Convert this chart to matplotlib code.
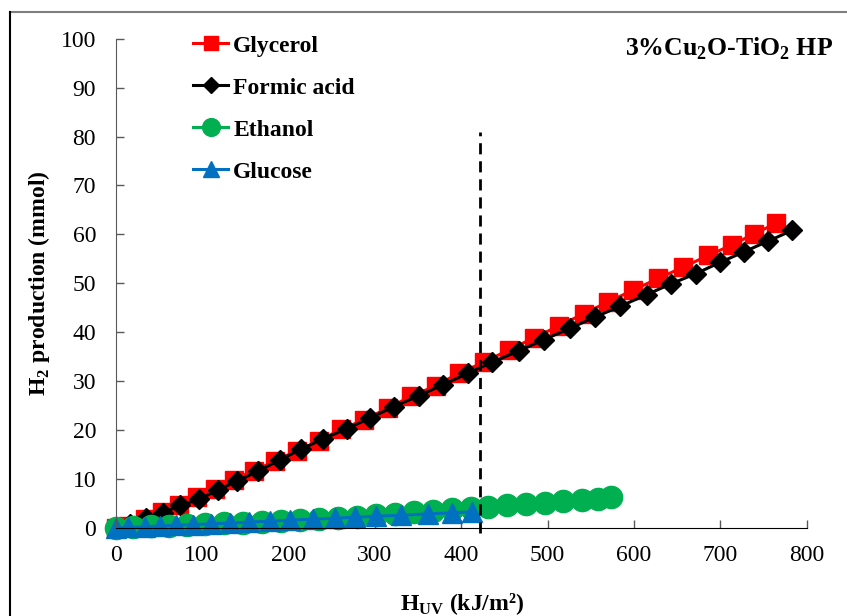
import matplotlib
matplotlib.use("Agg")
import matplotlib.pyplot as plt
from matplotlib.lines import Line2D

plt.rcParams['font.family'] = ['Liberation Serif', 'DejaVu Serif']
plt.rcParams['mathtext.fontset'] = 'custom'
plt.rcParams['mathtext.rm'] = 'Liberation Serif'
plt.rcParams['mathtext.bf'] = 'Liberation Serif:bold'

# Data (H_UV in kJ/m2, H2 in mmol)
glycerol_x = [0, 14, 34, 54, 73, 94, 115, 137, 160, 185, 210, 236, 261, 288, 315, 342,
              371, 398, 427, 455, 484, 513, 542, 570, 599, 628, 657, 686, 713, 739, 765]
glycerol_y = [0, 0.5, 1.8, 3.2, 4.6, 6.3, 8.0, 9.9, 11.7, 13.7, 15.8, 17.8, 20.2, 22.1, 24.5, 26.9,
              29.1, 31.7, 33.9, 36.4, 38.8, 41.3, 43.8, 46.2, 48.6, 51.0, 53.3, 55.7, 57.8, 60.1, 62.3]

formic_x = [0, 17, 35, 55, 75, 97, 119, 141, 165, 190, 215, 240, 268, 295, 322, 351,
            379, 408, 436, 467, 496, 526, 555, 584, 615, 643, 672, 700, 727, 755, 783]
formic_y = [0, 0.9, 2.0, 3.1, 4.6, 5.9, 7.8, 9.6, 11.6, 13.9, 16.1, 18.2, 20.3, 22.5, 24.8, 27.0,
            29.3, 31.6, 33.9, 36.2, 38.5, 40.8, 43.1, 45.3, 47.7, 49.9, 52.0, 54.3, 56.4, 58.6, 60.8]

ethanol_x = [0, 20, 41, 62, 83, 104, 126, 148, 170, 192, 214, 236, 258, 280, 302, 324,
             346, 368, 390, 411, 431, 453, 475, 497, 518, 540, 559, 574]
ethanol_y = [0, 0.2, 0.35, 0.5, 0.65, 0.8, 0.95, 1.1, 1.3, 1.5, 1.7, 1.9, 2.1, 2.3, 2.6, 2.9,
             3.2, 3.5, 3.8, 4.0, 4.3, 4.6, 4.9, 5.2, 5.5, 5.8, 6.0, 6.3]

glucose_x = [0, 15, 34, 52, 70, 90, 111, 132, 155, 179, 202, 229, 254, 277, 302, 330,
             362, 389, 413]
glucose_y = [0, 0.1, 0.25, 0.4, 0.55, 0.7, 0.85, 1.0, 1.2, 1.4, 1.6, 1.8, 2.0, 2.2, 2.4, 2.6,
             2.9, 3.1, 3.3]

dashed_x = 422

fig = plt.figure(figsize=(8.47, 6.16), dpi=100)
ax = fig.add_axes([0.1364, 0.1429, 0.8160, 0.7943])

ax.plot(glycerol_x, glycerol_y, color='#FF0000', lw=2.2, marker='s', ms=13,
        label='Glycerol', clip_on=False)
ax.plot(formic_x, formic_y, color='black', lw=2.2, marker='D', ms=10,
        label='Formic acid', clip_on=False)
ax.plot(ethanol_x, ethanol_y, color='#00B050', lw=2.2, marker='o', ms=16,
        label='Ethanol', clip_on=False)
ax.plot(glucose_x, glucose_y, color='#0070C0', lw=2.2, marker='^', ms=14,
        label='Glucose', clip_on=False)

ax.plot([dashed_x, dashed_x], [-1, 81], color='black', lw=2, ls=(0, (4, 2.5)), clip_on=False)

ax.set_xlim(0, 800)
ax.set_ylim(0, 100)
ax.set_xticks(range(0, 801, 100))
ax.set_yticks(range(0, 101, 10))
for s in ['top', 'right']:
    ax.spines[s].set_visible(False)
ax.spines['left'].set_color('#595959')
ax.spines['bottom'].set_color('black')
ax.tick_params(axis='both', direction='in', length=6, width=1, color='#595959', labelsize=17)
ax.tick_params(axis='x', pad=12)
ax.tick_params(axis='y', pad=14)

ax.set_ylabel(r'H$_\mathbf{2}$ production (mmol)', fontsize=17, fontweight='bold')
ax.set_xlabel(r'H$_\mathbf{UV}$ (kJ/m²)', fontsize=17, fontweight='bold')
ax.yaxis.set_label_coords(-0.092, 0.5)
ax.xaxis.set_label_coords(0.501, -0.128)

ax.legend(loc='upper left', bbox_to_anchor=(193 / 847, 1 - 35 / 616), bbox_transform=fig.transFigure,
          frameon=False, prop={'weight': 'bold', 'size': 17}, handlelength=1.5,
          handletextpad=0.2, labelspacing=0.87, borderpad=0, borderaxespad=0, markerscale=0.8)

fig.text(833 / 847, 1 - 55 / 616, r'3%Cu$_\mathbf{2}$O-TiO$_\mathbf{2}$ HP', fontsize=18.5,
         fontweight='bold', ha='right', va='baseline')

# outer frame of the original figure
fig.add_artist(Line2D([10 / 847, 1], [1 - 12 / 616, 1 - 12 / 616], color='#7f7f7f', lw=1.5))
fig.add_artist(Line2D([10 / 847, 10 / 847], [0, 1 - 12 / 616], color='black', lw=1.5))

fig.savefig('out.png', dpi=100)
